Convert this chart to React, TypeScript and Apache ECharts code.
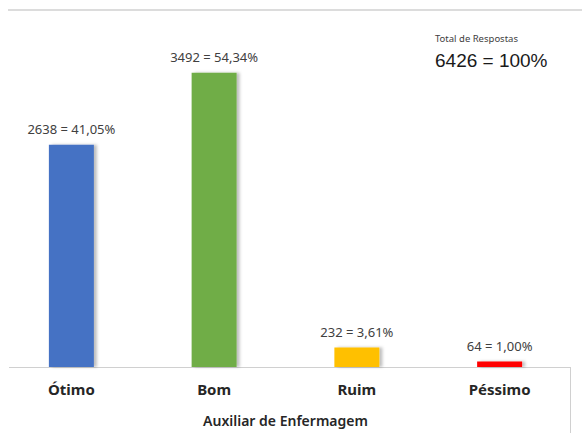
import React, { useEffect, useRef } from "react";
import * as echarts from "echarts";

const categories = ["Ótimo", "Bom", "Ruim", "Péssimo"];
const counts = [2638, 3492, 232, 64];
const percents = ["41,05%", "54,34%", "3,61%", "1,00%"];
const colors = ["#4472C4", "#70AD47", "#FFC000", "#FF0000"];
const axisTitle = "Auxiliar de Enfermagem";
const totalTitle = "Total de Respostas";
const totalText = "6426 = 100%";

export default function App() {
  const ref = useRef<HTMLDivElement>(null);
  useEffect(() => {
    document.body.style.margin = "0";
    const chart = echarts.init(ref.current!, null, { renderer: "svg" });
    chart.setOption({
      animation: false,
      backgroundColor: "#ffffff",
      grid: { left: 0, right: 11, top: 30, bottom: 66, containLabel: false },
      xAxis: {
        type: "category",
        data: categories,
        axisLine: { show: false },
        axisTick: { show: false },
        axisLabel: {
          margin: 14,
          fontFamily: "Noto Sans",
          fontSize: 15,
          fontWeight: "bold",
          color: "#262626",
        },
        name: axisTitle,
        nameLocation: "middle",
        nameGap: 46,
        nameTextStyle: {
          fontFamily: "Noto Sans",
          fontSize: 14,
          fontWeight: 600,
          color: "#262626",
        },
      },
      yAxis: {
        type: "value",
        min: 0,
        max: 4000,
        show: false,
        splitLine: { show: false },
      },
      series: [
        {
          type: "bar",
          barWidth: 45,
          data: counts.map((v, i) => ({
            value: v,
            itemStyle: {
              color: colors[i],
              shadowColor: "rgba(0,0,0,0.25)",
              shadowOffsetX: 3,
              shadowOffsetY: 0,
              shadowBlur: 3,
            },
          })),
          label: {
            show: true,
            position: "top",
            distance: 9,
            fontFamily: "Noto Sans",
            fontSize: 13,
            color: "#404040",
            formatter: (p: any) => `${counts[p.dataIndex]} = ${percents[p.dataIndex]}`,
          },
        },
      ],
      graphic: [
        {
          type: "line",
          shape: { x1: 8, y1: 10, x2: 582, y2: 10 },
          style: { stroke: "#dcdcdc", lineWidth: 2 },
        },
        {
          type: "line",
          shape: { x1: 9, y1: 367.5, x2: 570, y2: 367.5 },
          style: { stroke: "#d0d0d0", lineWidth: 1 },
        },
        {
          type: "line",
          shape: { x1: 570.5, y1: 367, x2: 570.5, y2: 433 },
          style: { stroke: "#d0d0d0", lineWidth: 1 },
        },
        {
          type: "text",
          left: 435,
          top: 33,
          style: {
            text: totalTitle,
            fontFamily: "Noto Sans",
            fontSize: 9.5,
            fill: "#404040",
          },
        },
        {
          type: "text",
          left: 435,
          top: 51,
          style: {
            text: totalText,
            fontFamily: "Liberation Sans",
            fontSize: 19,
            fill: "#1a1a1a",
          },
        },
      ],
    });
    return () => chart.dispose();
  }, []);
  return <div ref={ref} style={{ width: 582, height: 433 }} />;
}
